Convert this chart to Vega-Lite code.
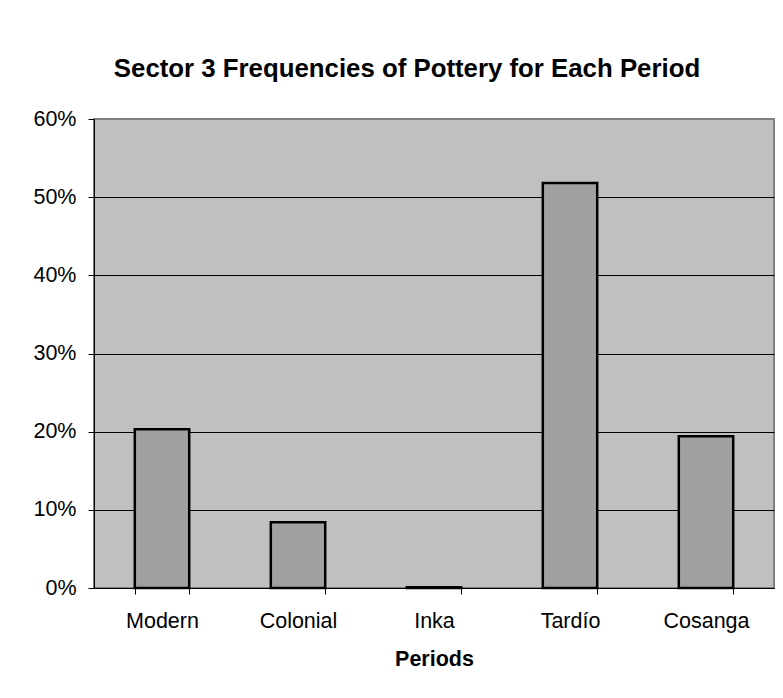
{
  "$schema": "https://vega.github.io/schema/vega-lite/v6.json",
  "autosize": {"type": "none"},
  "width": 680,
  "height": 469,
  "padding": {"left": 94, "top": 119, "right": 9, "bottom": 110},
  "background": "white",
  "title": {
    "text": "Sector 3 Frequencies of Pottery for Each Period",
    "font": "Liberation Sans",
    "fontSize": 25.8,
    "fontWeight": "bold",
    "color": "black",
    "anchor": "middle",
    "dx": -27,
    "offset": 25
  },
  "data": {
    "values": [
      {"period": "Modern", "freq": 0.203},
      {"period": "Colonial", "freq": 0.084},
      {"period": "Inka", "freq": 0.001},
      {"period": "Tardío", "freq": 0.518},
      {"period": "Cosanga", "freq": 0.194}
    ]
  },
  "config": {
    "view": {"fill": "#C0C0C0", "stroke": "#808080", "strokeWidth": 2},
    "axis": {
      "labelFont": "Liberation Sans",
      "labelFontSize": 21.5,
      "labelColor": "black",
      "titleFont": "Liberation Sans",
      "titleFontSize": 21.5,
      "titleFontWeight": "bold",
      "titleColor": "black",
      "domainColor": "black",
      "tickColor": "black",
      "tickSize": 6
    }
  },
  "mark": {"type": "bar", "fill": "#A0A0A0", "stroke": "black", "strokeWidth": 2.5},
  "encoding": {
    "x": {
      "field": "period",
      "type": "nominal",
      "sort": null,
      "scale": {"paddingInner": 0.6, "paddingOuter": 0.3},
      "axis": {
        "title": "Periods",
        "labelAngle": 0,
        "tickBand": "extent",
        "labelPadding": 16,
        "titlePadding": 17,
        "grid": false
      }
    },
    "y": {
      "field": "freq",
      "type": "quantitative",
      "scale": {"domain": [0, 0.6], "nice": false},
      "axis": {
        "title": null,
        "format": ".0%",
        "values": [0, 0.1, 0.2, 0.3, 0.4, 0.5, 0.6],
        "labelPadding": 12,
        "grid": true,
        "gridColor": {"condition": {"test": "datum.value >= 0.6", "value": "#808080"}, "value": "black"},
        "gridWidth": 1,
        "domainColor": "black"
      }
    }
  }
}
